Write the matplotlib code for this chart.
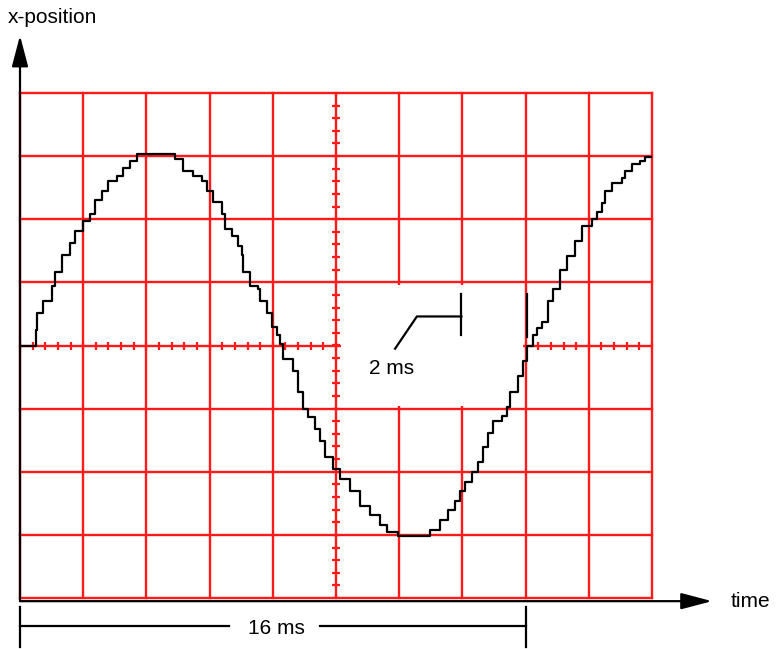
import numpy as np
import matplotlib
matplotlib.use("Agg")
import matplotlib.pyplot as plt
from matplotlib.patches import Rectangle

plt.rcParams['font.family'] = ['Liberation Sans', 'DejaVu Sans']

# staircase trace: time in ms, position in divisions
time_ms = [0.0, 0.41, 0.51, 0.54, 0.73, 1.01, 1.11, 1.33, 1.58, 1.74, 1.99, 2.22, 2.37,
           2.59, 2.78, 3.07, 3.26, 3.48, 3.70, 4.75, 4.91, 5.16, 5.47, 5.76, 5.92, 6.11,
           6.39, 6.49, 6.71, 6.90, 7.03, 7.06, 7.28, 7.53, 7.59, 7.82, 7.97, 8.13, 8.23,
           8.32, 8.64, 8.80, 8.96, 9.11, 9.34, 9.49, 9.65, 9.91, 10.13, 10.44, 10.76,
           11.08, 11.39, 11.61, 11.96, 12.88, 12.97, 13.29, 13.54, 13.77, 13.92, 14.08,
           14.30, 14.49, 14.65, 14.81, 14.97, 15.25, 15.41, 15.51, 15.76, 15.92, 16.04,
           16.23, 16.36, 16.52, 16.71, 16.87, 17.09, 17.31, 17.56, 17.78, 18.10, 18.26,
           18.42, 18.51, 18.73, 19.05, 19.15, 19.37, 19.62, 19.78, 20.0]
position = [0.0, 0.0, 0.24, 0.51, 0.71, 0.95, 1.17, 1.43, 1.62, 1.81, 1.97, 2.09, 2.30,
            2.44, 2.60, 2.69, 2.81, 2.93, 3.03, 3.03, 2.96, 2.77, 2.69, 2.60, 2.44, 2.28,
            2.09, 1.85, 1.73, 1.58, 1.43, 1.17, 0.95, 0.90, 0.70, 0.51, 0.30, 0.16, 0.03,
            -0.21, -0.41, -0.73, -1.00, -1.13, -1.32, -1.52, -1.76, -1.95, -2.11, -2.31,
            -2.54, -2.69, -2.85, -2.95, -3.01, -3.01, -2.93, -2.77, -2.61, -2.47, -2.31,
            -2.16, -2.00, -1.84, -1.60, -1.39, -1.20, -1.11, -0.97, -0.73, -0.49, -0.25,
            0.0, 0.16, 0.27, 0.38, 0.70, 0.90, 1.19, 1.41, 1.65, 1.89, 2.01, 2.12, 2.25,
            2.44, 2.57, 2.65, 2.76, 2.88, 2.93, 2.98, 2.98]

x_divs = 10      # 2 ms per division
y_divs = 8
ms_per_div = 2
period_label = "16 ms"
div_label = "2 ms"

red = '#ff1a1a'
fs = 15

fig = plt.figure(figsize=(7.77, 6.49), dpi=100)
ax = fig.add_axes([20 / 777, 1 - 598 / 649, 632 / 777, 505 / 649])
ax.set_xlim(0, x_divs * ms_per_div)
ax.set_ylim(-y_divs / 2, y_divs / 2)
ax.axis('off')

# graticule
for gx in np.arange(0, x_divs * ms_per_div + 0.1, ms_per_div):
    ax.axvline(gx, color=red, lw=1.7, clip_on=False, zorder=1)
for gy in np.arange(-y_divs / 2, y_divs / 2 + 0.1, 1):
    ax.axhline(gy, color=red, lw=1.7, clip_on=False, zorder=1)

# small ticks on the centre lines
tx = np.arange(0, 20.01, 0.4)
ax.plot(tx, np.zeros_like(tx), ls='none', marker='|', ms=6, mew=1.6, color=red, zorder=1)
ty = np.arange(-4, 4.01, 0.2)
ax.plot(np.full_like(ty, 10), ty, ls='none', marker='_', ms=6, mew=1.6, color=red, zorder=1)

# blank patch behind the 2 ms label (grid is cut out there)
ax.add_patch(Rectangle((10.16, -0.965), 15.93 - 10.16, 1.93, facecolor='white',
                       edgecolor='none', zorder=2))

# the trace
ax.plot(time_ms, position, drawstyle='steps-post', color='black', lw=1.6, zorder=3)

# axes arrows
arr = dict(arrowstyle='-|>,head_length=1.9,head_width=0.5', color='black', lw=1.6,
           shrinkA=0, shrinkB=0)
ax.annotate('', xy=(0, 4.91), xytext=(0, -4.05), arrowprops=arr, annotation_clip=False)
ax.annotate('', xy=(21.9, -4.05), xytext=(0, -4.05), arrowprops=arr, annotation_clip=False)
ax.text(-0.4, 5.2, 'x-position', fontsize=fs, ha='left', va='center')
ax.text(22.5, -4.06, 'time', fontsize=fs, ha='left', va='center')

# 16 ms dimension
k = dict(color='black', lw=1.6, clip_on=False, zorder=4)
ax.plot([0, 0], [-4.14, -4.77], **k)
ax.plot([16, 16], [-4.14, -4.77], **k)
ax.plot([0, 6.6], [-4.44, -4.44], **k)
ax.plot([9.5, 16], [-4.44, -4.44], **k)
ax.text(8.1, -4.48, period_label, fontsize=fs, ha='center', va='center')

# 2 ms bracket
ax.plot([13.97, 13.97], [0.82, 0.17], **k)
ax.plot([16.04, 16.04], [0.82, 0.14], **k)
ax.plot([13.97, 12.56, 11.87], [0.46, 0.46, -0.05], **k)
ax.text(11.75, -0.36, div_label, fontsize=fs, ha='center', va='center', zorder=4)

fig.savefig('out.png', dpi=100)
